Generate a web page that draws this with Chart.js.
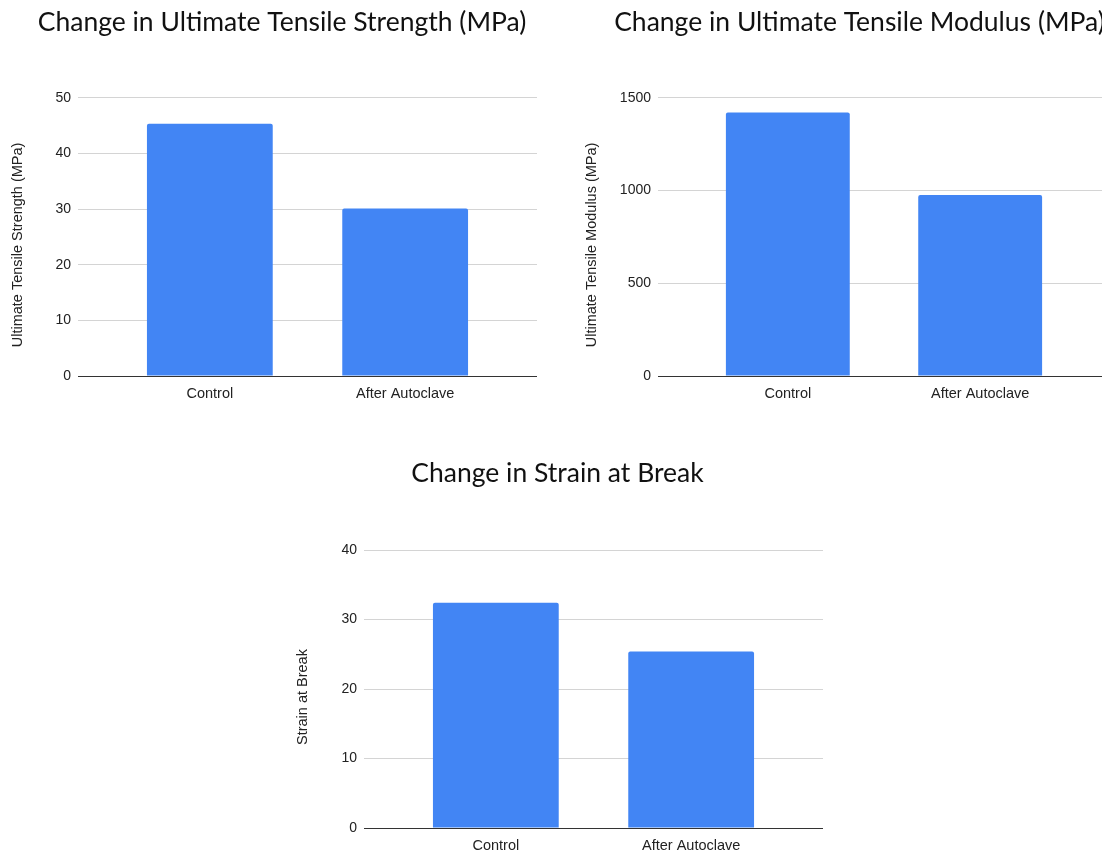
<!DOCTYPE html>
<html>
<head>
<meta charset="utf-8">
<script src="https://cdn.jsdelivr.net/npm/chart.js@4"></script>
<style>
  html, body { margin: 0; padding: 0; background: #fff; overflow: hidden; }
  #wrap { position: relative; width: 1102px; height: 853px; overflow: hidden; }
  .box { position: absolute; }
</style>
</head>
<body>
<div id="wrap">
  <div class="box" style="left:0px;top:0px;width:564px;height:410px"><canvas id="utsChart"></canvas></div>
  <div class="box" style="left:580px;top:0px;width:559px;height:410px"><canvas id="modChart"></canvas></div>
  <div class="box" style="left:280px;top:450px;width:555px;height:412px"><canvas id="strainChart"></canvas></div>
</div>
<script>
var categories = ['Control', 'After Autoclave'];

var utsValues = [45.3, 30.1];
var modulusValues = [1420, 975];
var strainValues = [32.4, 25.4];

var utsTicks = [0, 10, 20, 30, 40, 50];
var modulusTicks = [0, 500, 1000, 1500];
var strainTicks = [0, 10, 20, 30, 40];

const barColor = '#4285f4';
const titleFont = 'Lato, "Open Sans", sans-serif';
const axisFont = '"Liberation Sans", Arial, sans-serif';

function makeChart(canvas, opts) {
  var points = [];
  for (var i = 0; i < categories.length; i++) {
    points.push({ x: i, y: opts.values[i] });
  }
  var ticks = opts.ticks;

  return new Chart(canvas, {
    type: 'bar',
    data: {
      datasets: [{
        data: points,
        backgroundColor: barColor,
        borderRadius: { topLeft: 2, topRight: 2 },
        borderSkipped: 'bottom',
        barPercentage: 0.644,
        categoryPercentage: 1
      }]
    },
    options: {
      responsive: true,
      maintainAspectRatio: false,
      animation: false,
      layout: { padding: 0 },
      scales: {
        x: {
          type: 'linear',
          min: -0.675,
          max: categories.length - 1 + 0.675,
          offset: false,
          grid: { display: false },
          border: { display: false },
          afterBuildTicks: function (scale) {
            scale.ticks = categories.map(function (c, i) { return { value: i }; });
          },
          afterFit: function (scale) { scale.height = 34; },
          ticks: {
            autoSkip: false,
            maxRotation: 0,
            padding: 1,
            color: '#222',
            font: { family: axisFont, size: 14.5 },
            callback: function (v) { return categories[v]; }
          }
        },
        y: {
          min: ticks[0],
          max: ticks[ticks.length - 1],
          afterBuildTicks: function (scale) {
            scale.ticks = ticks.map(function (t) { return { value: t }; });
          },
          afterFit: function (scale) { scale.width = opts.axisWidth; },
          border: { display: false },
          grid: {
            drawTicks: false,
            lineWidth: 1,
            color: function (ctx) { return ctx.tick && ctx.tick.value === 0 ? '#333' : '#d4d4d4'; }
          },
          ticks: {
            padding: 7,
            color: '#222',
            font: { family: axisFont, size: 14 },
            callback: function (v) { return String(v); }
          },
          title: {
            display: true,
            // trailing spaces nudge the rotated title a bit lower, like the original
            text: opts.yTitle + '    ',
            color: '#222',
            font: { family: axisFont, size: 14.5 },
            padding: { top: opts.titlePad, bottom: 0 }
          }
        },
        // empty spacer on the right so the plot ends where the reference does
        spacer: {
          type: 'linear',
          position: 'right',
          display: true,
          grid: { display: false },
          border: { display: false },
          ticks: { display: false },
          afterFit: function (scale) { scale.width = opts.padRight; }
        }
      },
      plugins: {
        legend: { display: false },
        tooltip: { enabled: false },
        title: {
          display: true,
          text: opts.title,
          color: '#111',
          font: { family: titleFont, size: 26.5, weight: 'normal' },
          padding: { top: opts.topPad, bottom: opts.bottomPad }
        }
      }
    }
  });
}

makeChart(document.getElementById('utsChart'), {
  values: utsValues, ticks: utsTicks,
  title: 'Change in Ultimate Tensile Strength (MPa)',
  yTitle: 'Ultimate Tensile Strength (MPa)',
  axisWidth: 78, padRight: 27, titlePad: 9.5, topPad: 6.1, bottomPad: 59.8
});

makeChart(document.getElementById('modChart'), {
  values: modulusValues, ticks: modulusTicks,
  title: 'Change in Ultimate Tensile Modulus (MPa)',
  yTitle: 'Ultimate Tensile Modulus (MPa)',
  axisWidth: 78, padRight: 29, titlePad: 3, topPad: 6.1, bottomPad: 59.8
});

makeChart(document.getElementById('strainChart'), {
  values: strainValues, ticks: strainTicks,
  title: 'Change in Strain at Break',
  yTitle: 'Strain at Break',
  axisWidth: 84, padRight: 12, titlePad: 14.5, topPad: 7.1, bottomPad: 61.1
});
</script>
</body>
</html>
